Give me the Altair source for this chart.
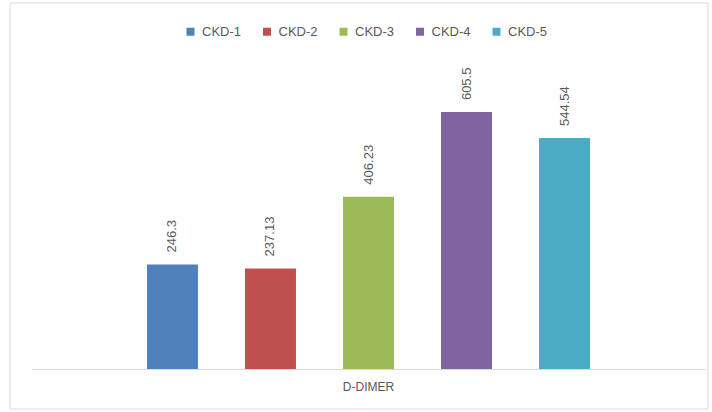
import altair as alt
import pandas as pd

categories = ["D-DIMER"]
series = ["CKD-1", "CKD-2", "CKD-3", "CKD-4", "CKD-5"]
values = [246.3, 237.13, 406.23, 605.5, 544.54]
colors = ["#4F81BD", "#C0504D", "#9BBB59", "#8064A2", "#4BACC6"]

df = pd.DataFrame({
    "category": categories * len(series),
    "series": series,
    "value": values,
})

FONT = "Liberation Sans"
GREY = "#595959"

x_enc = alt.X("category:N", title=None,
              scale=alt.Scale(paddingInner=0, paddingOuter=0.122),
              axis=alt.Axis(labelAngle=0, ticks=False, domainColor="#d9d9d9",
                            labelColor=GREY, labelFontSize=12, labelFont=FONT,
                            labelPadding=12, grid=False))
xo_enc = alt.XOffset("series:N", sort=series,
                     scale=alt.Scale(paddingInner=0.48, paddingOuter=0.5))
y_enc = alt.Y("value:Q", scale=alt.Scale(domain=[0, 700]), axis=None)

bars = alt.Chart(df).mark_bar().encode(
    x=x_enc,
    xOffset=xo_enc,
    y=y_enc,
    color=alt.Color("series:N", sort=series,
                    scale=alt.Scale(domain=series, range=colors),
                    legend=alt.Legend(title=None, orient="none", direction="horizontal",
                                      legendX=152, legendY=-47, symbolType="square",
                                      symbolSize=64, symbolStrokeWidth=0,
                                      labelFontSize=13, labelFont=FONT, labelColor=GREY,
                                      labelOffset=5, columnPadding=18.5, padding=0)),
)

labels = alt.Chart(df).mark_text(angle=270, align="left", baseline="middle", dx=12,
                                 font=FONT, fontSize=13, color=GREY).encode(
    x=x_enc,
    xOffset=xo_enc,
    y=y_enc,
    text=alt.Text("value:Q", format=".2~f"),
)

border = alt.Chart(pd.DataFrame({"a": [0]})).mark_rect(
    filled=False, stroke="#d9d9d9", strokeWidth=1, clip=False
).encode(
    x=alt.value(-22), x2=alt.value(676), y=alt.value(-69), y2=alt.value(337)
)

chart = alt.layer(border, bars, labels).properties(
    width=673, height=297,
    autosize=alt.AutoSizeParams(type="none"),
    padding={"left": 32, "top": 72, "right": 7, "bottom": 43},
    background="white",
).configure_view(stroke=None)

chart.save("out.html", embed_options={"renderer": "svg", "actions": False})
